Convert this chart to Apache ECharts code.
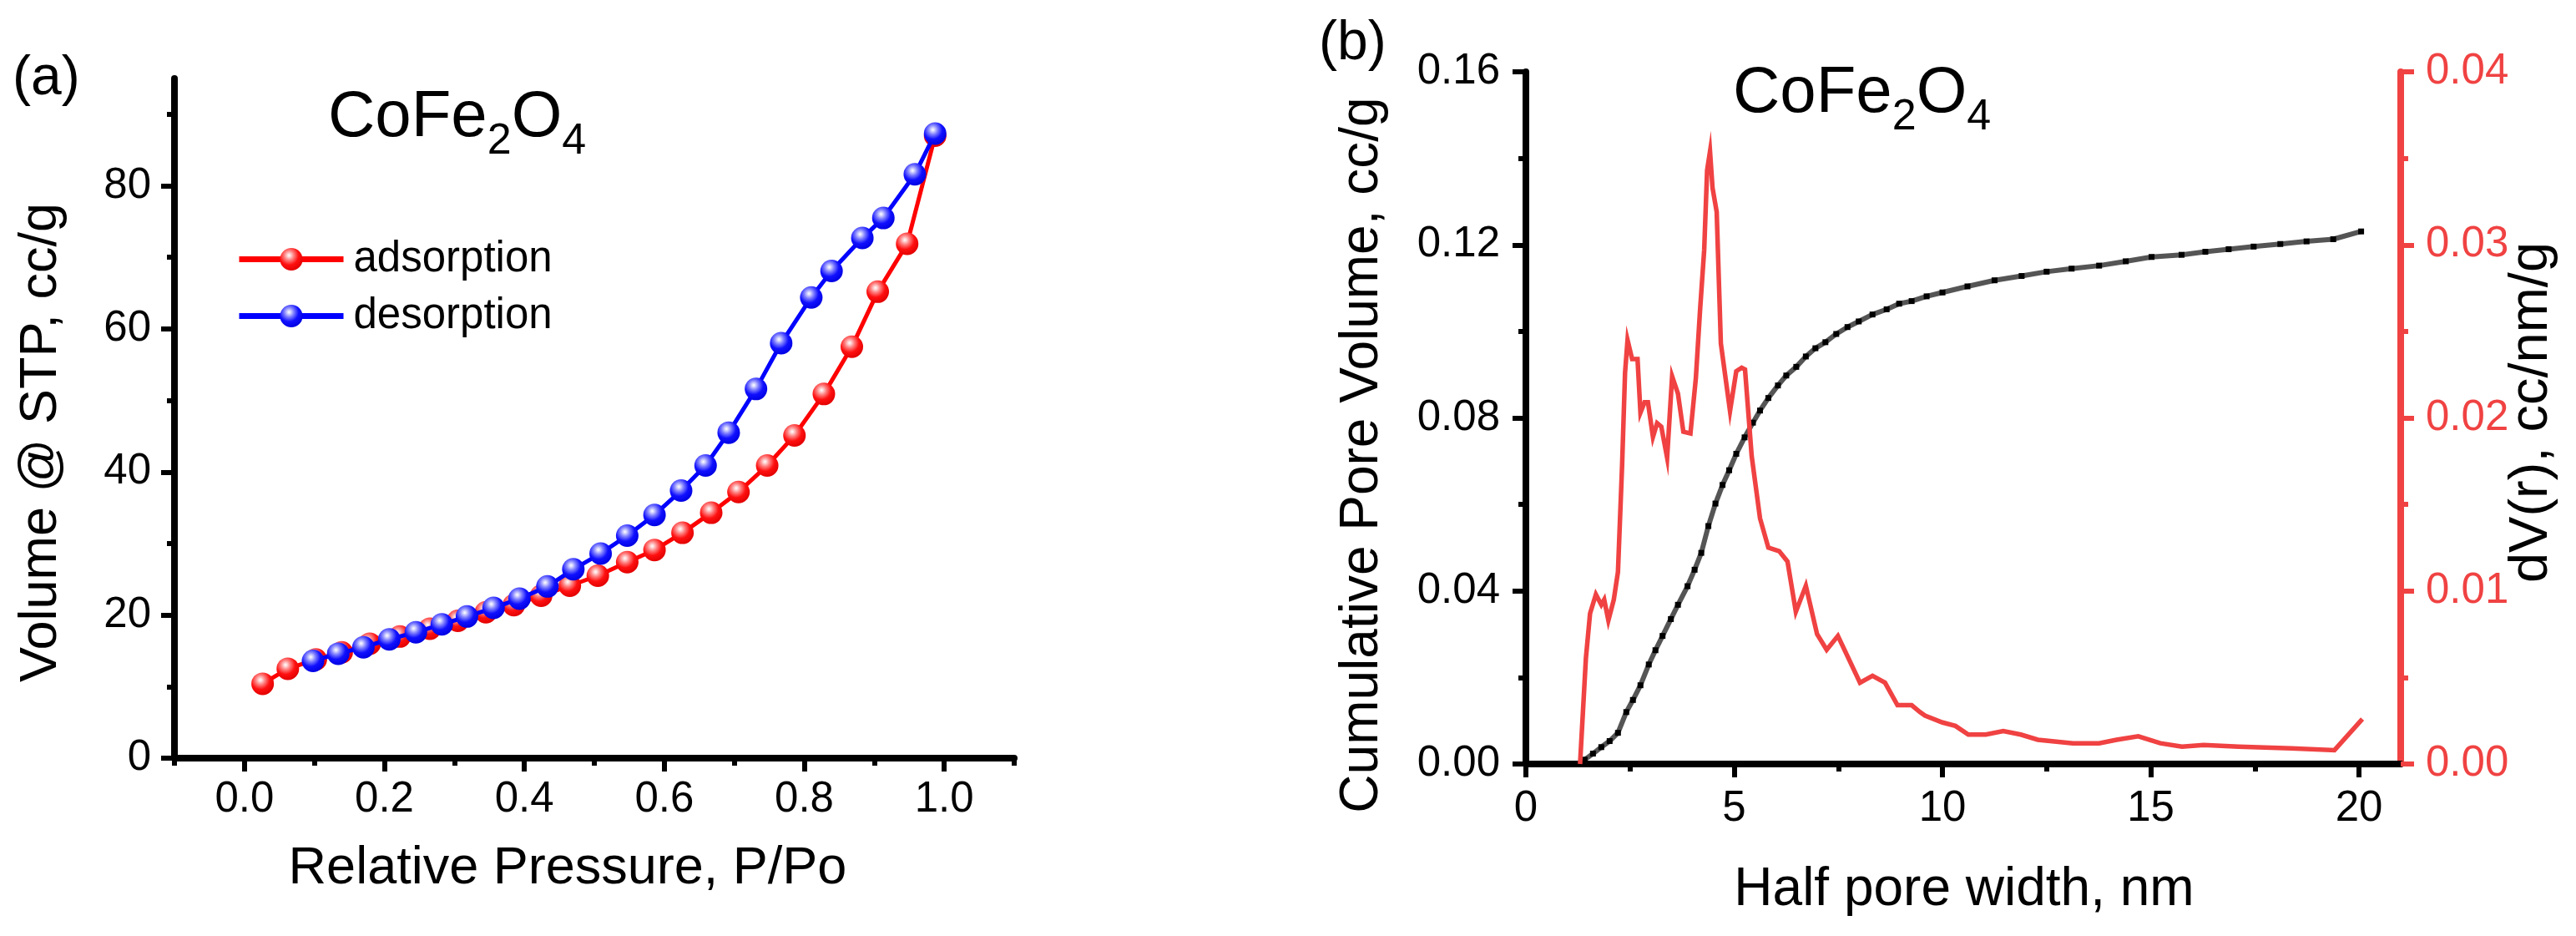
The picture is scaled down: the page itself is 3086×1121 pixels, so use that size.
<!doctype html>
<html>
<head>
<meta charset="UTF-8">
<title>CoFe2O4 isotherm and pore size</title>
<script src="https://cdn.jsdelivr.net/npm/echarts@6/dist/echarts.min.js"></script>
<style>
html, body { margin: 0; padding: 0; background: #fff; }
#chart { width: 3086px; height: 1121px; }
</style>
</head>
<body>
<div id="chart"></div>
<script>
// (a) N2 isotherm
var adsP = [0.026, 0.062, 0.102, 0.139, 0.179, 0.222, 0.265, 0.305, 0.345, 0.385, 0.424, 0.465, 0.505,
            0.547, 0.586, 0.626, 0.667, 0.706, 0.747, 0.786, 0.828, 0.868, 0.905, 0.947, 0.987];
var adsV = [10.4, 12.5, 13.8, 14.8, 16.0, 17.0, 18.1, 19.2, 20.4, 21.4, 22.7, 24.1, 25.5,
            27.4, 29.1, 31.5, 34.3, 37.2, 40.9, 45.1, 50.9, 57.5, 65.2, 71.9, 87.0];
var desP = [0.987, 0.958, 0.913, 0.883, 0.839, 0.810, 0.767, 0.731, 0.692, 0.659, 0.624, 0.586, 0.547,
            0.509, 0.470, 0.433, 0.393, 0.356, 0.318, 0.282, 0.245, 0.207, 0.170, 0.134, 0.098];
var desV = [87.3, 81.6, 75.5, 72.7, 68.1, 64.4, 58.0, 51.6, 45.5, 40.9, 37.4, 34.0, 31.1,
            28.6, 26.4, 24.0, 22.3, 21.0, 19.8, 18.7, 17.6, 16.6, 15.5, 14.6, 13.6];

// (b) pore size distribution
var cumW = [1.38, 1.41, 1.61, 1.81, 2.01, 2.21, 2.41, 2.57, 2.75, 2.95, 3.11, 3.28, 3.48, 3.65, 3.88,
            4.05, 4.21, 4.38, 4.55, 4.72, 4.88, 5.05, 5.25, 5.45, 5.62, 5.82, 6.05, 6.25, 6.49, 6.72,
            6.95, 7.19, 7.45, 7.72, 7.99, 8.32, 8.66, 8.96, 9.26, 9.62, 10.0, 10.6, 11.25, 11.9, 12.5,
            13.1, 13.76, 14.4, 15.02, 15.74, 16.31, 16.87, 17.47, 18.11, 18.74, 19.38, 20.05];
var cumV = [0, 0.0010, 0.0024, 0.0039, 0.0053, 0.0072, 0.0120, 0.0148, 0.0182, 0.0230, 0.0263, 0.0296,
            0.0335, 0.0368, 0.0411, 0.0449, 0.0488, 0.0550, 0.0602, 0.0645, 0.0679, 0.0717, 0.0755,
            0.0789, 0.0817, 0.0846, 0.0875, 0.0898, 0.0918, 0.0942, 0.0961, 0.0975, 0.0994, 0.1010,
            0.1023, 0.1039, 0.1051, 0.1064, 0.1070, 0.1081, 0.1090, 0.1104, 0.1118, 0.1128, 0.1138,
            0.1145, 0.1152, 0.1162, 0.1172, 0.1177, 0.1184, 0.1190, 0.1196, 0.1202, 0.1208, 0.1213, 0.1231];
var dvW = [1.30, 1.44, 1.54, 1.68, 1.81, 1.88, 1.98, 2.11, 2.21, 2.31, 2.38, 2.44, 2.55, 2.68, 2.75,
           2.85, 2.93, 3.05, 3.15, 3.25, 3.39, 3.51, 3.65, 3.78, 3.95, 4.08, 4.18, 4.28, 4.35, 4.42,
           4.48, 4.58, 4.68, 4.90, 5.05, 5.18, 5.26, 5.42, 5.62, 5.82, 6.08, 6.28, 6.48, 6.72, 6.99,
           7.22, 7.49, 8.02, 8.32, 8.62, 8.92, 9.26, 9.46, 9.58, 10.0, 10.31, 10.62, 11.04, 11.46,
           11.88, 12.29, 13.13, 13.76, 14.18, 14.70, 15.23, 15.75, 16.27, 17.11, 18.37, 19.41, 20.08];
var dvV = [0.0000, 0.0061, 0.0087, 0.0098, 0.0092, 0.0095, 0.0083, 0.0095, 0.0111, 0.0173, 0.0226,
           0.0245, 0.0234, 0.0234, 0.0203, 0.0209, 0.0209, 0.0189, 0.0197, 0.0195, 0.0177, 0.0224,
           0.0214, 0.0192, 0.0191, 0.0223, 0.0262, 0.0297, 0.0343, 0.0354, 0.0333, 0.0319, 0.0243,
           0.0204, 0.0227, 0.0229, 0.0228, 0.0178, 0.0142, 0.0125, 0.0123, 0.0117, 0.0088, 0.0103,
           0.0075, 0.0066, 0.0074, 0.0047, 0.0051, 0.0047, 0.0034, 0.0034, 0.0030, 0.0028, 0.0024,
           0.0022, 0.0017, 0.0017, 0.0019, 0.0017, 0.0014, 0.0012, 0.0012, 0.0014, 0.0016, 0.0012,
           0.0010, 0.0011, 0.0010, 0.0009, 0.0008, 0.0026];

// ticks
var xTicksA = [0, 0.2, 0.4, 0.6, 0.8, 1.0];
var xMinorA = [-0.1, 0.1, 0.3, 0.5, 0.7, 0.9, 1.1];
var yTicksA = [0, 20, 40, 60, 80];
var yMinorA = [10, 30, 50, 70, 90];
var xTicksB = [0, 5, 10, 15, 20];
var xMinorB = [2.5, 7.5, 12.5, 17.5];
var yTicksB = [0, 0.04, 0.08, 0.12, 0.16];
var yMinorB = [0.02, 0.06, 0.10, 0.14];
var rTicksB = [0, 0.01, 0.02, 0.03, 0.04];
var rMinorB = [0.005, 0.015, 0.025, 0.035];

var FONT = '"Liberation Sans", Arial, sans-serif';
var RED = '#F04242';

function zip(a, b) {
  var out = [];
  for (var i = 0; i < a.length; i++) out.push([a[i], b[i]]);
  return out;
}

function ball(hi, mid, base, dark) {
  return {
    type: 'radial', x: 0.4, y: 0.33, r: 0.7,
    colorStops: [
      { offset: 0, color: '#ffffff' },
      { offset: 0.12, color: hi },
      { offset: 0.3, color: mid },
      { offset: 0.6, color: base },
      { offset: 1, color: dark }
    ]
  };
}

function majorAxis(grid, min, max, ticks, fmt, color, margin, extra) {
  var ax = {
    gridIndex: grid, type: 'value', min: min, max: max,
    axisLine: { show: true, onZero: false, lineStyle: { color: color, width: 8 } },
    axisTick: { show: true, customValues: ticks, length: 16, lineStyle: { color: color, width: 6 } },
    axisLabel: { customValues: ticks, formatter: fmt, margin: margin, fontSize: 51, color: color, fontFamily: FONT },
    splitLine: { show: false }
  };
  for (var k in extra) ax[k] = extra[k];
  return ax;
}

function minorAxis(grid, min, max, ticks, color, extra) {
  var ax = {
    gridIndex: grid, type: 'value', min: min, max: max,
    axisLine: { show: false, onZero: false },
    axisTick: { show: true, customValues: ticks, length: 9, lineStyle: { color: color, width: 6 } },
    axisLabel: { show: false },
    splitLine: { show: false }
  };
  for (var k in extra) ax[k] = extra[k];
  return ax;
}

function f1(v) { return v.toFixed(1); }
function f2(v) { return v.toFixed(2); }
function f0(v) { return String(v); }

var chart = echarts.init(document.getElementById('chart'), null, { renderer: 'canvas' });

// main letters sit at the top of the line box, subscripts drop to its bottom
var titleRich = {
  m: { fontSize: 78, fontFamily: FONT, color: '#000', verticalAlign: 'top', lineHeight: 94 },
  s: { fontSize: 52, fontFamily: FONT, color: '#000', verticalAlign: 'bottom', lineHeight: 20 }
};

chart.setOption({
  animation: false,
  backgroundColor: '#fff',
  grid: [
    { left: 209, top: 94, width: 1006, height: 814 },
    { left: 1828, top: 86, width: 1048, height: 829 }
  ],
  legend: {
    data: ['adsorption', 'desorption'],
    orient: 'vertical',
    left: 278, top: 280,
    itemWidth: 125, itemHeight: 34, itemGap: 17,
    lineStyle: { width: 7 },
    textStyle: { fontSize: 51, fontFamily: FONT, color: '#000', padding: [0, 0, 0, 7] }
  },
  xAxis: [
    majorAxis(0, -0.1, 1.1, xTicksA, f1, '#000', 24, { position: 'bottom' }),
    minorAxis(0, -0.1, 1.1, xMinorA, '#000', { position: 'bottom' }),
    majorAxis(1, 0, 21, xTicksB, f0, '#000', 28, { position: 'bottom' }),
    minorAxis(1, 0, 21, xMinorB, '#000', { position: 'bottom' })
  ],
  yAxis: [
    majorAxis(0, 0, 95, yTicksA, f0, '#000', 28, { position: 'left' }),
    minorAxis(0, 0, 95, yMinorA, '#000', { position: 'left' }),
    majorAxis(1, 0, 0.16, yTicksB, f2, '#000', 31, { position: 'left' }),
    minorAxis(1, 0, 0.16, yMinorB, '#000', { position: 'left' }),
    majorAxis(1, 0, 0.04, rTicksB, f2, RED, 30, { position: 'right' }),
    minorAxis(1, 0, 0.04, rMinorB, RED, { position: 'right' })
  ],
  series: [
    {
      name: 'adsorption', type: 'line', xAxisIndex: 0, yAxisIndex: 0,
      data: zip(adsP, adsV),
      symbol: 'circle', symbolSize: 27, showAllSymbol: true,
      lineStyle: { color: '#ff0000', width: 5 },
      itemStyle: { color: ball('#ffd0d0', '#ff8080', '#ff1010', '#e00000') },
      z: 2
    },
    {
      name: 'desorption', type: 'line', xAxisIndex: 0, yAxisIndex: 0,
      data: zip(desP, desV),
      symbol: 'circle', symbolSize: 27, showAllSymbol: true,
      lineStyle: { color: '#0000ff', width: 5 },
      itemStyle: { color: ball('#d0d0ff', '#8080ff', '#1010ff', '#0000e0') },
      z: 3
    },
    {
      name: 'cumulative', type: 'line', xAxisIndex: 2, yAxisIndex: 2,
      data: zip(cumW, cumV),
      symbol: 'rect', symbolSize: 7, showAllSymbol: true,
      lineStyle: { color: '#555555', width: 6 },
      itemStyle: { color: '#000000' },
      z: 2
    },
    {
      name: 'dV', type: 'line', xAxisIndex: 2, yAxisIndex: 4,
      data: zip(dvW, dvV),
      symbol: 'none',
      lineStyle: { color: RED, width: 5.5, join: 'miter' },
      z: 3
    }
  ],
  graphic: [
    { type: 'text', x: 15, y: 62, style: { text: '(a)', fill: '#000', font: '66px ' + FONT, align: 'left', verticalAlign: 'top' } },
    { type: 'text', x: 1580, y: 20, style: { text: '(b)', fill: '#000', font: '66px ' + FONT, align: 'left', verticalAlign: 'top' } },
    { type: 'text', x: 393, y: 102, style: { text: '{m|CoFe}{s|2}{m|O}{s|4}', rich: titleRich, align: 'left', verticalAlign: 'top' } },
    { type: 'text', x: 2076, y: 73, style: { text: '{m|CoFe}{s|2}{m|O}{s|4}', rich: titleRich, align: 'left', verticalAlign: 'top' } },
    { type: 'text', x: 680, y: 1041, style: { text: 'Relative Pressure, P/Po', fill: '#000', font: '63px ' + FONT, align: 'center', verticalAlign: 'middle' } },
    { type: 'text', x: 2353, y: 1066, style: { text: 'Half pore width, nm', fill: '#000', font: '64px ' + FONT, align: 'center', verticalAlign: 'middle' } },
    { type: 'text', x: 50, y: 530, rotation: Math.PI / 2, style: { text: 'Volume @ STP, cc/g', fill: '#000', font: '63px ' + FONT, align: 'center', verticalAlign: 'middle' } },
    { type: 'text', x: 1632, y: 545, rotation: Math.PI / 2, style: { text: 'Cumulative Pore Volume, cc/g', fill: '#000', font: '64px ' + FONT, align: 'center', verticalAlign: 'middle' } },
    { type: 'text', x: 3033, y: 494, rotation: Math.PI / 2, style: { text: 'dV(r), cc/nm/g', fill: '#000', font: '65px ' + FONT, align: 'center', verticalAlign: 'middle' } }
  ]
});
</script>
</body>
</html>
